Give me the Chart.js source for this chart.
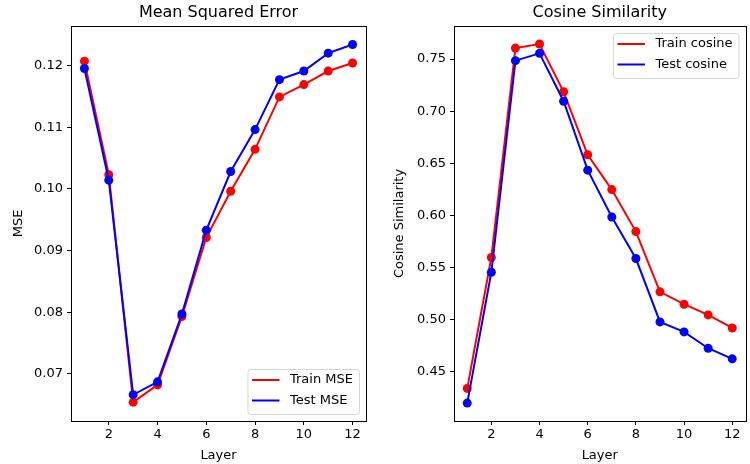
<!DOCTYPE html>
<html>
<head>
<meta charset="utf-8">
<script src="https://cdn.jsdelivr.net/npm/chart.js@4.4.1/dist/chart.umd.min.js"></script>
<style>
    body { margin: 0; background: #fff; }
    .panel { position: absolute; top: 0; width: 375px; height: 464px; }
</style>
</head>
<body>
<div class="panel" style="left:0"><canvas id="mseChart" width="375" height="464"></canvas></div>
<div class="panel" style="left:375px"><canvas id="cosChart" width="375" height="464"></canvas></div>
<script>
var layers = [1, 2, 3, 4, 5, 6, 7, 8, 9, 10, 11, 12];
var trainMse = [0.1207, 0.1023, 0.0654, 0.0682, 0.0793, 0.0921, 0.0996, 0.1064, 0.1149, 0.1169, 0.1191, 0.1204];
var testMse = [0.1195, 0.1014, 0.0666, 0.0687, 0.0797, 0.0933, 0.1028, 0.1096, 0.1177, 0.1191, 0.1220, 0.1234];
var trainCos = [0.4336, 0.5594, 0.7606, 0.7645, 0.7186, 0.6581, 0.6246, 0.5843, 0.5264, 0.5145, 0.5042, 0.4917];
var testCos = [0.4195, 0.5452, 0.7485, 0.7555, 0.7095, 0.6433, 0.5983, 0.5584, 0.4975, 0.4879, 0.4722, 0.4620];

var FONT = "'DejaVu Sans', sans-serif";

// matplotlib style frame + legend box drawn inside the plot
var framePlugin = {
    id: "frame",
    afterDraw(chart, args, opts) {
        var ctx = chart.ctx;
        var a = chart.chartArea;
        ctx.save();
        ctx.strokeStyle = "#000";
        ctx.lineWidth = 1;
        ctx.strokeRect(Math.round(a.left) + 0.5, Math.round(a.top) + 0.5, Math.round(a.right - a.left), Math.round(a.bottom - a.top));

        ctx.font = "13px " + FONT;
        var sets = chart.data.datasets;
        var textW = 0;
        sets.forEach(ds => { textW = Math.max(textW, ctx.measureText(ds.label).width); });
        var w = 4.5 + 27.5 + 10.5 + textW + 6;
        var h = 45;
        var x = a.right - 7 - w;
        var y = opts.corner === "lower" ? a.bottom - 7 - h : a.top + 7;

        ctx.beginPath();
        ctx.roundRect(x + 0.5, y + 0.5, w, h, 3);
        ctx.fillStyle = "rgba(255,255,255,0.8)";
        ctx.fill();
        ctx.strokeStyle = "#d5d5d5";
        ctx.stroke();

        sets.forEach((ds, i) => {
            var ry = y + 11 + i * 20.5;
            ctx.beginPath();
            ctx.moveTo(x + 4.5, ry);
            ctx.lineTo(x + 32, ry);
            ctx.strokeStyle = ds.borderColor;
            ctx.lineWidth = 2;
            ctx.stroke();
            ctx.fillStyle = "#000";
            ctx.textBaseline = "middle";
            ctx.fillText(ds.label, x + 42.5, ry);
        });
        ctx.restore();
    }
};

function makeSet(label, values, color, order) {
    return {
        label: label,
        data: values.map((v, i) => ({ x: layers[i], y: v })),
        borderColor: color,
        backgroundColor: color,
        pointBackgroundColor: color,
        pointBorderWidth: 0,
        pointRadius: 4.5,
        borderWidth: 2,
        tension: 0,
        order: order
    };
}

function makeChart(el, title, yLabel, sets, yMin, yMax, yStep, yWidth, yTitlePad, padRight, corner) {
    return new Chart(document.getElementById(el), {
        type: "line",
        data: { datasets: sets },
        plugins: [framePlugin],
        options: {
            responsive: false,
            animation: false,
            layout: { padding: { left: 0, right: padRight, top: 0, bottom: 0 } },
            plugins: {
                legend: { display: false },
                tooltip: { enabled: false },
                frame: { corner: corner },
                title: {
                    display: true,
                    text: title,
                    fullSize: false,
                    color: "#000",
                    font: { family: FONT, size: 16, weight: "normal" },
                    padding: { top: 3, bottom: 3.8 }
                }
            },
            scales: {
                x: {
                    type: "linear",
                    min: 0.45,
                    max: 12.55,
                    border: { display: false },
                    grid: { drawOnChartArea: false, tickLength: 4, color: "#000" },
                    ticks: { stepSize: 2, includeBounds: false, color: "#000", padding: 2, maxRotation: 0, font: { family: FONT, size: 13 } },
                    title: { display: true, text: "Layer", color: "#000", font: { family: FONT, size: 13 }, padding: { top: 0, bottom: 1 } },
                    afterFit: s => { s.height = 43; }
                },
                y: {
                    min: yMin,
                    max: yMax,
                    border: { display: false },
                    grid: { drawOnChartArea: false, tickLength: 4, color: "#000" },
                    ticks: { stepSize: yStep, includeBounds: false, color: "#000", padding: 4, font: { family: FONT, size: 13 }, callback: v => v.toFixed(2) },
                    title: { display: true, text: yLabel, color: "#000", font: { family: FONT, size: 13 }, padding: { top: yTitlePad, bottom: 0 } },
                    afterFit: s => { s.width = yWidth; }
                }
            }
        }
    });
}

makeChart("mseChart", "Mean Squared Error", "MSE",
    [makeSet("Train MSE", trainMse, "#ff0000", 1), makeSet("Test MSE", testMse, "#0000ff", 0)],
    0.06235, 0.1264, 0.01, 71, 11, 9, "lower");

makeChart("cosChart", "Cosine Similarity", "Cosine Similarity",
    [makeSet("Train cosine", trainCos, "#ff0000", 1), makeSet("Test cosine", testCos, "#0000ff", 0)],
    0.4023, 0.7818, 0.05, 79, 17, 2, "upper");
</script>
</body>
</html>
